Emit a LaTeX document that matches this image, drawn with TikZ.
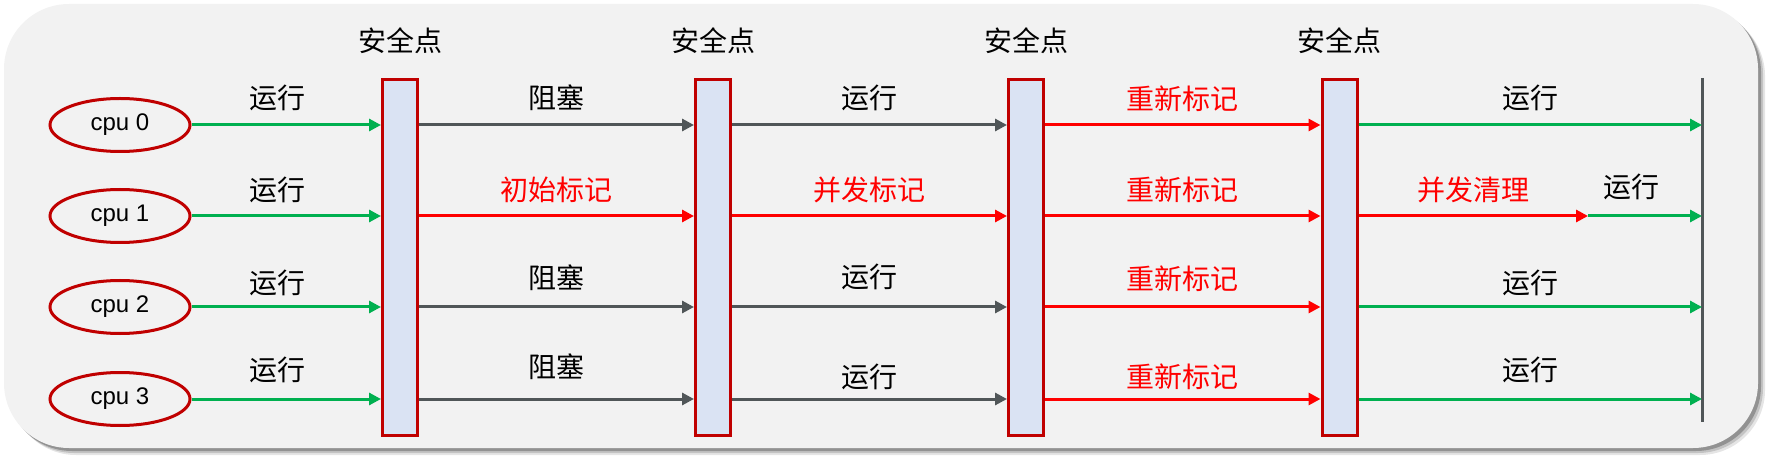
\documentclass[tikz,border=0pt]{standalone}
\usepackage{fontspec}
\setmainfont{Liberation Sans}
\newfontfamily\cjk{Noto Sans CJK SC}
\usetikzlibrary{arrows.meta, shapes.geometric}
\definecolor{bgc}{HTML}{F2F2F2}
\definecolor{barfill}{HTML}{DAE3F3}
\definecolor{darkred}{HTML}{C00000}
\definecolor{runc}{HTML}{00B050}
\definecolor{holdc}{HTML}{505658}
\definecolor{markc}{HTML}{FF0000}

\begin{document}
\begin{tikzpicture}[x=1pt, y=-1pt, >={Triangle[length=12pt,width=12pt]},
        cpu/.style={ellipse, draw=darkred, line width=3pt, minimum width=140pt, minimum height=53pt, inner sep=0pt, font=\fontsize{24}{28}\selectfont},
        spbar/.style={draw=darkred, fill=barfill, line width=3pt, minimum width=35pt, minimum height=356pt, inner sep=0pt},
        sptext/.style={font=\cjk\fontsize{28}{32}\selectfont, inner sep=0pt},
        lab/.style={midway, yshift=27pt, font=\cjk\fontsize{28}{32}\selectfont, inner sep=0pt},
        runline/.style={->, draw=runc, line width=3pt},
        holdline/.style={->, draw=holdc, line width=3pt},
        markline/.style={->, color=markc, line width=3pt}]
        \useasboundingbox (0,0) rectangle (1772,462);

        % 背景与阴影
        \foreach \d/\o in {7/0.10, 5/0.15, 3/0.25}
            \fill[black, opacity=\o, rounded corners=65pt] ({4+\d},{4+\d}) rectangle ({1758+\d},{448+\d});
        \fill[bgc, rounded corners=65pt] (4,4) rectangle (1758,448);

        % 各个 cpu
        \node[cpu] (cpu0) at (120,125) {cpu 0};
        \node[cpu] (cpu1) at (120,216) {cpu 1};
        \node[cpu] (cpu2) at (120,307) {cpu 2};
        \node[cpu] (cpu3) at (120,399) {cpu 3};

        % 安全点
        \node[spbar] (sp1) at (400,257.5) {};
        \node[spbar] (sp2) at (713,257.5) {};
        \node[spbar] (sp3) at (1026,257.5) {};
        \node[spbar] (sp4) at (1339.5,257.5) {};
        \node[sptext] (t1) at ([yshift=37pt]sp1.north) {安全点};
        \node[sptext] (t2) at ([yshift=37pt]sp2.north) {安全点};
        \node[sptext] (t3) at ([yshift=37pt]sp3.north) {安全点};
        \node[sptext] (t4) at ([yshift=37pt]sp4.north) {安全点};

        % 结束线
        \coordinate (endtop) at (1702,78);
        \coordinate (endbot) at (1702,422);
        \draw[holdc, line width=3pt] (endtop) -- (endbot);

        % cpu -> 第一个安全点
        \draw[runline] (cpu0.east) -- (sp1.west |- cpu0) node[lab, xshift=-9pt] (a0) {运行};
        \draw[runline] (cpu1.east) -- (sp1.west |- cpu1) node[lab, xshift=-9pt, yshift=-1pt] (a1) {运行};
        \draw[runline] (cpu2.east) -- (sp1.west |- cpu2) node[lab, xshift=-9pt, yshift=-3pt] (a2) {运行};
        \draw[runline] (cpu3.east) -- (sp1.west |- cpu3) node[lab, xshift=-9pt, yshift=2pt] (a3) {运行};

        % 初始标记阶段
        \draw[holdline] (sp1.east |- cpu0) -- (sp2.west |- cpu0) node[lab] (b0) {阻塞};
        \draw[markline] (sp1.east |- cpu1) -- (sp2.west |- cpu1) node[lab, yshift=-1pt] (b1) {初始标记};
        \draw[holdline] (sp1.east |- cpu2) -- (sp2.west |- cpu2) node[lab, yshift=2pt] (b2) {阻塞};
        \draw[holdline] (sp1.east |- cpu3) -- (sp2.west |- cpu3) node[lab, yshift=5pt] (b3) {阻塞};

        % 并发标记阶段
        \draw[holdline] (sp2.east |- cpu0) -- (sp3.west |- cpu0) node[lab] (c0) {运行};
        \draw[markline] (sp2.east |- cpu1) -- (sp3.west |- cpu1) node[lab, yshift=-1pt] (c1) {并发标记};
        \draw[holdline] (sp2.east |- cpu2) -- (sp3.west |- cpu2) node[lab, yshift=3pt] (c2) {运行};
        \draw[holdline] (sp2.east |- cpu3) -- (sp3.west |- cpu3) node[lab, yshift=-5pt] (c3) {运行};

        % 重新标记阶段
        \draw[markline] (sp3.east |- cpu0) -- (sp4.west |- cpu0) node[lab, yshift=-1pt] (d0) {重新标记};
        \draw[markline] (sp3.east |- cpu1) -- (sp4.west |- cpu1) node[lab, yshift=-1pt] (d1) {重新标记};
        \draw[markline] (sp3.east |- cpu2) -- (sp4.west |- cpu2) node[lab, yshift=1pt] (d2) {重新标记};
        \draw[markline] (sp3.east |- cpu3) -- (sp4.west |- cpu3) node[lab, yshift=-5pt] (d3) {重新标记};

        % 并发清理阶段
        \coordinate (split) at (1588,216);
        \draw[runline] (sp4.east |- cpu0) -- (endtop |- cpu0) node[lab] (e0) {运行};
        \draw[markline] (sp4.east |- cpu1) -- (split) node[lab, yshift=-1pt] (e1) {并发清理};
        \draw[runline] (split) -- (endtop |- cpu1) node[lab, xshift=-14pt, yshift=2pt] (f1) {运行};
        \draw[runline] (sp4.east |- cpu2) -- (endtop |- cpu2) node[lab, yshift=-3pt] (e2) {运行};
        \draw[runline] (sp4.east |- cpu3) -- (endtop |- cpu3) node[lab, yshift=2pt] (e3) {运行};
\end{tikzpicture}
\end{document}
